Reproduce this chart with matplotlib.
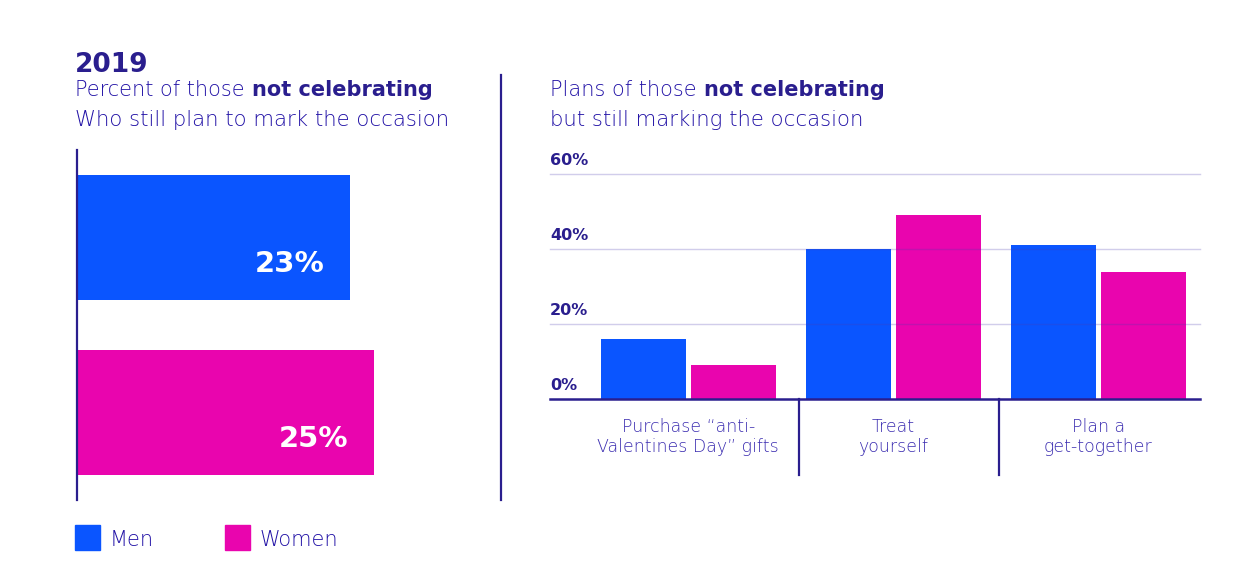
import matplotlib.pyplot as plt
import numpy as np

# Datos del gráfico
grupos = ['Men', 'Women']
pct_marcan = [23, 25]

planes = ['Purchase \u201canti-\nValentines Day\u201d gifts', 'Treat\nyourself', 'Plan a\nget-together']
planes_hombres = [16, 40, 41]
planes_mujeres = [9, 49, 34]
ticks_y = [0, 20, 40, 60]

AZUL = '#0A55FF'
MAGENTA = '#E905AE'
OSCURO = '#2A1E8E'
TEXTO = '#2212A6'
ETIQUETA = '#3A2CB0'
GRILLA = '#4A3AB0'

plt.rcParams['font.family'] = ['DejaVu Sans']
LIGERA = 'light'

W, H = 1250, 575
fig = plt.figure(figsize=(W / 100, H / 100), dpi=100)


def caja(x0, y0, x1, y1):
    # convierte pixeles (origen arriba-izquierda) a fracción de figura
    return [x0 / W, 1 - y1 / H, (x1 - x0) / W, (y1 - y0) / H]


def fx(x):
    return x / W


def fy(y):
    return 1 - y / H


renderer = fig.canvas.get_renderer()


def texto_mixto(x, y, normal, negrita, size):
    t = fig.text(fx(x), fy(y), normal, fontsize=size, color=TEXTO, va='center', ha='left',
                 fontweight=LIGERA)
    bb = t.get_window_extent(renderer)
    fig.text((bb.x1 + size * 0.5) / W, fy(y), negrita, fontsize=size, color=OSCURO,
             fontweight='bold', va='center', ha='left')


# --- Títulos ---
fig.text(fx(75), fy(65), '2019', fontsize=19, fontweight='bold', color=OSCURO, va='center', ha='left')
texto_mixto(75, 90, 'Percent of those', 'not celebrating', 15)
fig.text(fx(75), fy(120), 'Who still plan to mark the occasion', fontsize=15.3, color=TEXTO,
         va='center', ha='left', fontweight=LIGERA)
texto_mixto(550, 90, 'Plans of those', 'not celebrating', 15)
fig.text(fx(550), fy(120), 'but still marking the occasion', fontsize=15.3, color=TEXTO,
         va='center', ha='left', fontweight=LIGERA)

# --- Panel izquierdo: barras horizontales ---
ax1 = fig.add_axes(caja(77, 150, 490, 500))
pos = np.arange(len(grupos))
ax1.barh(pos, pct_marcan, height=0.714, color=[AZUL, MAGENTA])
ax1.set_xlim(0, 34.8)
ax1.set_ylim(1.5, -0.5)
for s in ['top', 'right', 'bottom']:
    ax1.spines[s].set_visible(False)
ax1.spines['left'].set_color(OSCURO)
ax1.spines['left'].set_linewidth(1.6)
ax1.set_xticks([])
ax1.set_yticks([])
ax1.patch.set_alpha(0)
for p, v in zip(pos, pct_marcan):
    ax1.annotate(f'{v}%', xy=(v, p), xytext=(-18, -19), textcoords='offset points',
                 ha='right', va='center', fontsize=21, fontweight='bold', color='white')

# Línea divisoria
fig.add_artist(plt.Line2D([fx(501), fx(501)], [fy(75), fy(500)], color=OSCURO, lw=1.6))

# --- Panel derecho: barras agrupadas ---
ax2 = fig.add_axes(caja(550, 174, 1200, 399))
x = np.arange(len(planes))
ancho = 0.4146
ax2.bar(x - 0.2195, planes_hombres, width=ancho, color=AZUL, zorder=2)
ax2.bar(x + 0.2195, planes_mujeres, width=ancho, color=MAGENTA, zorder=2)
ax2.set_xlim(-0.675, 2.496)
ax2.set_ylim(0, 60)
for s in ['top', 'right', 'left']:
    ax2.spines[s].set_visible(False)
ax2.spines['bottom'].set_color(OSCURO)
ax2.spines['bottom'].set_linewidth(1.8)
ax2.spines['bottom'].set_zorder(4)
ax2.set_xticks([])
ax2.set_yticks([])
ax2.patch.set_alpha(0)
for t in ticks_y[1:]:
    ax2.axhline(t, color=GRILLA, alpha=0.25, lw=1, zorder=3, clip_on=False)
for t in ticks_y:
    ax2.annotate(f'{t}%', xy=(0, t), xycoords=('axes fraction', 'data'), xytext=(0, 10),
                 textcoords='offset points', ha='left', va='center', fontsize=11.5,
                 fontweight='bold', color=OSCURO)

trans = ax2.get_xaxis_transform()
for sep in [0.54, 1.515]:
    ax2.plot([sep, sep], [0, -76 / 225], transform=trans, color=OSCURO, lw=1.6, clip_on=False)
for xi, nombre in zip(x, planes):
    ax2.text(xi, -38 / 225, nombre, transform=trans, ha='center', va='center',
             fontsize=12.5, color=ETIQUETA, linespacing=1.2, fontweight=LIGERA)

# --- Leyenda ---
for (x0, txt_x), nombre, color in zip([(75, 110), (225, 260)], grupos, [AZUL, MAGENTA]):
    fig.add_artist(plt.Rectangle((fx(x0), fy(550)), 25 / W, 25 / H, color=color, transform=fig.transFigure))
    fig.text(fx(txt_x), fy(540), nombre, fontsize=15, color=TEXTO, va='center', ha='left',
             fontweight=LIGERA)

fig.savefig('out.png', dpi=100)
